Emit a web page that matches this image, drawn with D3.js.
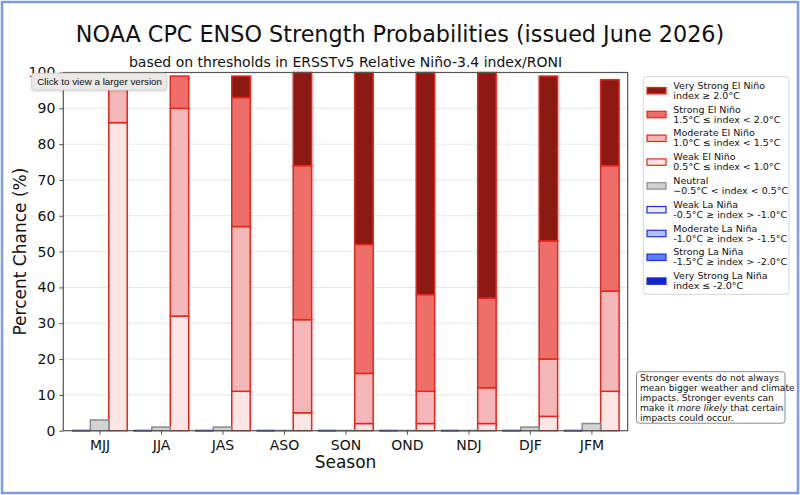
<!DOCTYPE html>
<html>
<head>
<meta charset="utf-8">
<script src="https://cdn.jsdelivr.net/npm/d3@7"></script>
<style>
  body { margin: 0; background: #fff; }
  svg text { font-family: "DejaVu Sans", sans-serif; fill: #111; }
</style>
</head>
<body>
<div id="chart"></div>
<script>
// ENSO strength probabilities, percent per season
const seasons = ["MJJ", "JJA", "JAS", "ASO", "SON", "OND", "NDJ", "DJF", "JFM"];
const laNina = [0, 0, 0, 0, 0, 0, 0, 0, 0];
const neutral = [3, 1, 1, 0, 0, 0, 0, 1, 2];
const weakElNino = [86, 32, 11, 5, 2, 2, 2, 4, 11];
const moderateElNino = [11, 58, 46, 26, 14, 9, 10, 16, 28];
const strongElNino = [0, 9, 36, 43, 36, 27, 25, 33, 35];
const veryStrongElNino = [0, 0, 6, 26, 48, 62, 63, 46, 24];
const yTicks = [0, 10, 20, 30, 40, 50, 60, 70, 80, 90, 100];

const legendItems = [
    { name: "Very Strong El Niño", range: "index ≥ 2.0°C", fill: "#8c1a12", stroke: "#e8241c" },
    { name: "Strong El Niño", range: "1.5°C ≤ index < 2.0°C", fill: "#ee6f69", stroke: "#e8241c" },
    { name: "Moderate El Niño", range: "1.0°C ≤ index < 1.5°C", fill: "#f4b6b6", stroke: "#e8241c" },
    { name: "Weak El Niño", range: "0.5°C ≤ index < 1.0°C", fill: "#fce5e5", stroke: "#e8241c" },
    { name: "Neutral", range: "−0.5°C < index < 0.5°C", fill: "#d3d3d3", stroke: "#8a8a8a" },
    { name: "Weak La Niña", range: "-0.5°C ≥ index > -1.0°C", fill: "#e8ecfb", stroke: "#1f2fe0" },
    { name: "Moderate La Niña", range: "-1.0°C ≥ index > -1.5°C", fill: "#adc3f3", stroke: "#1f2fe0" },
    { name: "Strong La Niña", range: "-1.5°C ≥ index > -2.0°C", fill: "#5b82e8", stroke: "#1f2fe0" },
    { name: "Very Strong La Niña", range: "index ≤ -2.0°C", fill: "#1228c0", stroke: "#1f2fe0" }
];

const width = 800;
const height = 495;
const plot = { left: 63.3, right: 627.7, top: 72.5, bottom: 430.7 };

const svg = d3.select("#chart").append("svg")
    .attr("width", width)
    .attr("height", height);

// light blue page frame
svg.append("rect")
    .attr("x", 2).attr("y", 2)
    .attr("width", width - 4).attr("height", height - 4)
    .attr("fill", "#fff")
    .attr("stroke", "#7f9bdc")
    .attr("stroke-width", 2.5);

const x = d3.scaleLinear().domain([-0.59, 8.59]).range([plot.left, plot.right]);
const y = d3.scaleLinear().domain([0, 100]).range([plot.bottom, plot.top]);
const barW = x(0.3) - x(0);

// gridlines
svg.append("g")
    .selectAll("line")
    .data(yTicks.slice(1, -1))
    .join("line")
    .attr("x1", plot.left).attr("x2", plot.right)
    .attr("y1", d => y(d)).attr("y2", d => y(d))
    .attr("stroke", "#e6e6e6")
    .attr("stroke-width", 1);

// stacked El Niño bars
const elLayers = [weakElNino, moderateElNino, strongElNino, veryStrongElNino];
const elStyles = [legendItems[3], legendItems[2], legendItems[1], legendItems[0]];
const bars = svg.append("g");
seasons.forEach((s, i) => {
    let base = 0;
    elLayers.forEach((layer, k) => {
        const v = layer[i];
        if (v > 0) {
            bars.append("rect")
                .attr("x", x(i + 0.15))
                .attr("y", y(base + v))
                .attr("width", barW)
                .attr("height", y(base) - y(base + v))
                .attr("fill", elStyles[k].fill)
                .attr("stroke", elStyles[k].stroke)
                .attr("stroke-width", 1.5);
        }
        base += v;
    });
    // neutral bar
    if (neutral[i] > 0) {
        bars.append("rect")
            .attr("x", x(i - 0.15))
            .attr("y", y(neutral[i]))
            .attr("width", barW)
            .attr("height", y(0) - y(neutral[i]))
            .attr("fill", "#d3d3d3")
            .attr("stroke", "#8a8a8a")
            .attr("stroke-width", 1.5);
    } else {
        bars.append("line")
            .attr("x1", x(i - 0.15)).attr("x2", x(i + 0.15))
            .attr("y1", y(0)).attr("y2", y(0))
            .attr("stroke", "#9a9a9a").attr("stroke-width", 2);
    }
    // La Niña bars (zero height, drawn as edge)
    bars.append("line")
        .attr("x1", x(i - 0.45)).attr("x2", x(i - 0.15))
        .attr("y1", y(laNina[i])).attr("y2", y(laNina[i]))
        .attr("stroke", "#3a3f86").attr("stroke-width", 2);
});

// frame
svg.append("rect")
    .attr("x", plot.left).attr("y", plot.top)
    .attr("width", plot.right - plot.left)
    .attr("height", plot.bottom - plot.top)
    .attr("fill", "none")
    .attr("stroke", "#555")
    .attr("stroke-width", 1.2);

// axes
const yAxis = svg.append("g")
    .attr("transform", `translate(${plot.left},0)`)
    .call(d3.axisLeft(y).tickValues(yTicks).tickSize(4).tickPadding(4));
yAxis.select(".domain").remove();
yAxis.selectAll("line").attr("stroke", "#555");
yAxis.selectAll("text").style("font-size", "14px").style("font-family", "DejaVu Sans").attr("fill", "#111");

const xAxis = svg.append("g")
    .attr("transform", `translate(0,${plot.bottom})`)
    .call(d3.axisBottom(x).tickValues(d3.range(seasons.length)).tickFormat(i => seasons[i]).tickSize(4).tickPadding(5));
xAxis.select(".domain").remove();
xAxis.selectAll("line").attr("stroke", "#555");
xAxis.selectAll("text").style("font-size", "14px").style("font-family", "DejaVu Sans").attr("fill", "#111");

// titles
svg.append("text")
    .attr("x", 400).attr("y", 41.5)
    .attr("text-anchor", "middle")
    .style("font-size", "22.3px")
    .text("NOAA CPC ENSO Strength Probabilities (issued June 2026)");

svg.append("text")
    .attr("x", (plot.left + plot.right) / 2).attr("y", 67)
    .attr("text-anchor", "middle")
    .style("font-size", "14px")
    .text("based on thresholds in ERSSTv5 Relative Niño-3.4 index/RONI");

svg.append("text")
    .attr("x", (plot.left + plot.right) / 2).attr("y", 468)
    .attr("text-anchor", "middle")
    .style("font-size", "17px")
    .text("Season");

svg.append("text")
    .attr("transform", `translate(26,${(plot.top + plot.bottom) / 2}) rotate(-90)`)
    .attr("text-anchor", "middle")
    .style("font-size", "17px")
    .text("Percent Chance (%)");

// legend
const legend = svg.append("g");
legend.append("rect")
    .attr("x", 643.3).attr("y", 76.7)
    .attr("width", 145.7).attr("height", 217.6)
    .attr("rx", 3)
    .attr("fill", "#fff")
    .attr("stroke", "#d5d5d5");

const entry = legend.selectAll("g.entry")
    .data(legendItems)
    .join("g")
    .attr("class", "entry")
    .attr("transform", (d, i) => `translate(0,${90.7 + i * 23.8})`);

entry.append("rect")
    .attr("x", 647).attr("y", -3.2)
    .attr("width", 19).attr("height", 6.4)
    .attr("fill", d => d.fill)
    .attr("stroke", d => d.stroke)
    .attr("stroke-width", 1.2);

entry.append("text")
    .attr("x", 673.3).attr("y", -2)
    .style("font-size", "9.5px")
    .text(d => d.name);

entry.append("text")
    .attr("x", 673.3).attr("y", 8)
    .style("font-size", "9.5px")
    .text(d => d.range);

// note box
const note = svg.append("g");
note.append("rect")
    .attr("x", 636.5).attr("y", 371.7)
    .attr("width", 148.5).attr("height", 51.5)
    .attr("rx", 3)
    .attr("fill", "#fff")
    .attr("stroke", "#8a8a8a");

const noteLines = [
    ["Stronger events do not always"],
    ["mean bigger weather and climate"],
    ["impacts. Stronger events can"],
    ["make it ", "more likely", " that certain"],
    ["impacts could occur."]
];
noteLines.forEach((parts, i) => {
    const t = note.append("text")
        .attr("x", 640).attr("y", 380.5 + i * 10)
        .style("font-size", "9.1px");
    parts.forEach((p, j) => {
        t.append("tspan")
            .style("font-style", j === 1 ? "italic" : "normal")
            .text(p);
    });
});

// "click to view" hover tag from the source page
const tag = svg.append("g");
tag.append("rect")
    .attr("x", 31.7).attr("y", 73.3)
    .attr("width", 135).attr("height", 16.7)
    .attr("rx", 3)
    .attr("fill", "#ebe8e5")
    .attr("stroke", "#d8d5d2")
    .style("filter", "drop-shadow(0 1px 1px rgba(0,0,0,0.15))");
tag.append("text")
    .attr("x", 37.3).attr("y", 85)
    .style("font-family", "Liberation Sans, Arial, sans-serif")
    .style("font-size", "9.8px")
    .attr("fill", "#444")
    .text("Click to view a larger version");
</script>
</body>
</html>
